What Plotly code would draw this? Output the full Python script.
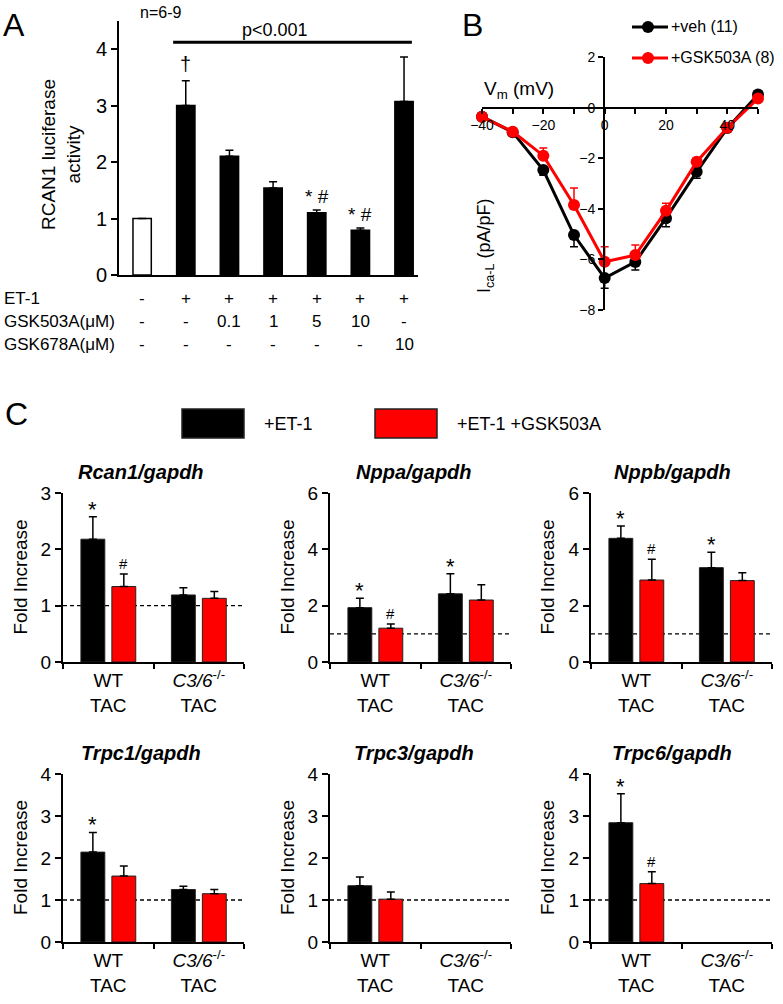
import plotly.graph_objects as go

W, H = 783, 1004
FONT = "Liberation Sans, Arial, sans-serif"

# ---------------- Panel A data ----------------
a_means = [1.00, 3.00, 2.10, 1.54, 1.10, 0.79, 3.07]
a_err = [0.00, 0.44, 0.11, 0.11, 0.05, 0.04, 0.79]
a_colors = ["white", "black", "black", "black", "black", "black", "black"]
a_marks = ["", "†", "", "", "* #", "* #", ""]
a_yticks = [0, 1, 2, 3, 4]
a_row_labels = ["ET-1", "GSK503A(μM)", "GSK678A(μM)"]
a_et1 = ["-", "+", "+", "+", "+", "+", "+"]
a_gsk503 = ["-", "-", "0.1", "1", "5", "10", "-"]
a_gsk678 = ["-", "-", "-", "-", "-", "-", "10"]

# ---------------- Panel B data ----------------
b_vm = [-40, -30, -20, -10, 0, 10, 20, 30, 40, 50]
b_veh = [-0.36, -0.97, -2.47, -5.04, -6.74, -6.10, -4.37, -2.54, -0.81, 0.52]
b_veh_err = [0.05, 0.08, 0.20, 0.46, 0.40, 0.32, 0.34, 0.25, 0.10, 0.05]
b_gsk = [-0.36, -0.95, -1.90, -3.85, -6.09, -5.83, -4.08, -2.14, -0.80, 0.36]
b_gsk_err = [0.05, 0.08, 0.30, 0.67, 0.59, 0.40, 0.30, 0.12, 0.08, 0.05]
b_xticks = [-40, -20, 0, 20, 40]
b_yticks = [2, 0, -2, -4, -6, -8]

# ---------------- Panel C data ----------------
c_categories = ["WT<br>TAC", "<i>C3/6</i><sup>-/-</sup><br>TAC"]
c_titles = ["Rcan1/gapdh", "Nppa/gapdh", "Nppb/gapdh",
            "Trpc1/gapdh", "Trpc3/gapdh", "Trpc6/gapdh"]
c_ymax = [3, 6, 6, 4, 4, 4]
c_dtick = [1, 2, 2, 1, 1, 1]

rcan1_et1 = [2.18, 1.19]; rcan1_et1_err = [0.40, 0.13]
rcan1_gsk = [1.34, 1.13]; rcan1_gsk_err = [0.22, 0.12]
nppa_et1 = [1.93, 2.42];  nppa_et1_err = [0.33, 0.71]
nppa_gsk = [1.20, 2.20];  nppa_gsk_err = [0.15, 0.54]
nppb_et1 = [4.39, 3.35];  nppb_et1_err = [0.44, 0.55]
nppb_gsk = [2.91, 2.89];  nppb_gsk_err = [0.74, 0.28]
trpc1_et1 = [2.14, 1.25]; trpc1_et1_err = [0.47, 0.08]
trpc1_gsk = [1.57, 1.15]; trpc1_gsk_err = [0.24, 0.10]
trpc3_et1 = [1.34, None]; trpc3_et1_err = [0.21, 0]
trpc3_gsk = [1.02, None]; trpc3_gsk_err = [0.17, 0]
trpc6_et1 = [2.84, None]; trpc6_et1_err = [0.69, 0]
trpc6_gsk = [1.39, None]; trpc6_gsk_err = [0.28, 0]

rcan1_marks = (["*", ""], ["#", ""])
nppa_marks = (["*", "*"], ["#", ""])
nppb_marks = (["*", "*"], ["#", ""])
trpc1_marks = (["*", ""], ["", ""])
trpc3_marks = (["", ""], ["", ""])
trpc6_marks = (["*", ""], ["#", ""])

c_sets = [
    (rcan1_et1, rcan1_et1_err, rcan1_gsk, rcan1_gsk_err, rcan1_marks),
    (nppa_et1, nppa_et1_err, nppa_gsk, nppa_gsk_err, nppa_marks),
    (nppb_et1, nppb_et1_err, nppb_gsk, nppb_gsk_err, nppb_marks),
    (trpc1_et1, trpc1_et1_err, trpc1_gsk, trpc1_gsk_err, trpc1_marks),
    (trpc3_et1, trpc3_et1_err, trpc3_gsk, trpc3_gsk_err, trpc3_marks),
    (trpc6_et1, trpc6_et1_err, trpc6_gsk, trpc6_gsk_err, trpc6_marks),
]


# ---------------- helpers (pixel -> paper) ----------------
def pxx(a, b):
    return [a / W, b / W]


def pxy(top, bottom):
    return [1 - bottom / H, 1 - top / H]


def px(x):
    return x / W


def py(y):
    return 1 - y / H


fig = go.Figure()
annotations = []
shapes = []


def note(text, x, y, size, xref="paper", yref="paper", xanchor="center",
         yanchor="middle", **kw):
    d = dict(text=text, x=x, y=y, xref=xref, yref=yref, showarrow=False,
             xanchor=xanchor, yanchor=yanchor,
             font=dict(size=size, color="black", family=FONT))
    d.update(kw)
    annotations.append(d)


# ================= Panel A =================
fig.add_trace(go.Bar(
    x=list(range(len(a_means))), y=a_means, width=0.42,
    marker=dict(color=a_colors, line=dict(color="black", width=1.5)),
    error_y=dict(type="data", symmetric=False, array=a_err,
                 arrayminus=[0] * len(a_err), color="black",
                 thickness=1.5, width=4),
    xaxis="x", yaxis="y", showlegend=False, cliponaxis=False))

for i, m in enumerate(a_marks):
    if m == "†":
        note(m, i, a_means[i] + a_err[i], 20, xref="x", yref="y",
             yanchor="bottom", yshift=4)
    elif m:
        note(m, i, a_means[i] + a_err[i], 19, xref="x", yref="y",
             yanchor="bottom", yshift=1)

note("p<0.001", 3.04, 4.13, 18, xref="x", yref="y", yanchor="bottom")
shapes.append(dict(type="line", xref="x", yref="y", x0=0.71, x1=6.18,
                   y0=4.12, y1=4.12, line=dict(color="black", width=3)))
note("n=6-9", px(160), py(13), 16)
note("RCAN1 luciferase<br>activity", px(61), py(155), 19, textangle=-90)

row_y = [299, 322, 345]
for label, vals, yy in zip(a_row_labels, [a_et1, a_gsk503, a_gsk678], row_y):
    note(label, px(2), py(yy), 17, xanchor="left")
    for i, v in enumerate(vals):
        note(v, i, py(yy), 17, xref="x")

# ================= Panel B =================
fig.add_trace(go.Scatter(
    x=b_vm, y=b_veh, mode="lines+markers", name="+veh (11)",
    line=dict(color="black", width=3), marker=dict(size=12, color="black"),
    error_y=dict(type="data", symmetric=False, array=[0] * len(b_vm),
                 arrayminus=b_veh_err, color="black", thickness=1.5, width=4),
    xaxis="x2", yaxis="y2", showlegend=False, cliponaxis=False))
fig.add_trace(go.Scatter(
    x=b_vm, y=b_gsk, mode="lines+markers", name="+GSK503A (8)",
    line=dict(color="#ff0000", width=3), marker=dict(size=12, color="#ff0000"),
    error_y=dict(type="data", symmetric=False, array=b_gsk_err,
                 arrayminus=[0] * len(b_vm), color="#ff0000",
                 thickness=1.5, width=4),
    xaxis="x2", yaxis="y2", showlegend=False, cliponaxis=False))

for yy, col, txt in [(27, "black", "+veh (11)"), (58, "#ff0000", "+GSK503A (8)")]:
    shapes.append(dict(type="line", xref="paper", yref="paper",
                       x0=px(632), x1=px(668), y0=py(yy), y1=py(yy),
                       line=dict(color=col, width=3)))
    shapes.append(dict(type="circle", xref="paper", yref="paper",
                       x0=px(642), x1=px(654), y0=py(yy + 6), y1=py(yy - 6),
                       fillcolor=col, line=dict(color=col, width=0)))
    note(txt, px(669), py(yy), 16, xanchor="left")

note("V<sub>m</sub> (mV)", px(519), py(90), 19)
note("I<sub>ca-L</sub> (pA/pF)", px(485), py(246), 18, textangle=-90)

# ================= Panel C =================
col_x = [(63, 244), (330, 511), (591, 772)]
row_y_px = [(493, 662), (774, 942)]
title_x = [141, 414, 672]
title_y = [472, 753]
ytitle_x = [20, 287, 547]

for k, (et, et_e, gs, gs_e, marks) in enumerate(c_sets):
    n = k + 3
    xa = "x%d" % n
    ya = "y%d" % n
    fig.add_trace(go.Bar(
        x=c_categories, y=et, width=0.264, offset=-0.302, name="+ET-1",
        marker=dict(color="black", line=dict(color="#222222", width=1)),
        error_y=dict(type="data", symmetric=False, array=et_e,
                     arrayminus=[0, 0], color="black", thickness=1.5, width=4),
        xaxis=xa, yaxis=ya, showlegend=False))
    fig.add_trace(go.Bar(
        x=c_categories, y=gs, width=0.264, offset=0.040, name="+ET-1 +GSK503A",
        marker=dict(color="#ff0000", line=dict(color="#222222", width=1)),
        error_y=dict(type="data", symmetric=False, array=gs_e,
                     arrayminus=[0, 0], color="black", thickness=1.5, width=4),
        xaxis=xa, yaxis=ya, showlegend=False))

    shapes.append(dict(type="line", xref="%s domain" % xa, yref=ya,
                       x0=0, x1=1, y0=1, y1=1, layer="below",
                       line=dict(color="black", width=1.3, dash="4px,3px")))

    for j in range(2):
        for vals, errs, mk, off, fs, ys in [(et, et_e, marks[0], -0.17, 22, -7),
                                             (gs, gs_e, marks[1], 0.172, 15, 0)]:
            if mk[j] and vals[j] is not None:
                note(mk[j], j + off, vals[j] + errs[j], fs, xref=xa, yref=ya,
                     yanchor="bottom", yshift=ys)

    r, c = divmod(k, 3)
    note("<b><i>%s</i></b>" % c_titles[k], px(title_x[c]), py(title_y[r]), 20)
    note("Fold Increase", px(ytitle_x[c]),
         py((row_y_px[r][0] + row_y_px[r][1]) / 2), 19, textangle=-90)

    fig.layout["xaxis%d" % n] = dict(
        domain=pxx(*col_x[c]), anchor=ya, type="category",
        categoryorder="array", categoryarray=c_categories, range=[-0.5, 1.5],
        showline=True, linecolor="black", linewidth=2, ticks="outside",
        tickson="boundaries", ticklen=5, tickwidth=2, tickcolor="black",
        tickfont=dict(size=19, color="black"), showgrid=False, zeroline=False,
        automargin=False)
    fig.layout["yaxis%d" % n] = dict(
        domain=pxy(*row_y_px[r]), anchor=xa, range=[0, c_ymax[k]],
        dtick=c_dtick[k], tick0=0, showline=True, linecolor="black", linewidth=2,
        ticks="outside", ticklen=6, tickwidth=2, tickcolor="black",
        tickfont=dict(size=19, color="black"), showgrid=False, zeroline=False,
        automargin=False)

# Panel C legend
for x0, x1, col, tx, txt in [(182, 244, "black", 262, "+ET-1"),
                             (375, 437, "#ff0000", 455, "+ET-1 +GSK503A")]:
    shapes.append(dict(type="rect", xref="paper", yref="paper",
                       x0=px(x0), x1=px(x1), y0=py(438), y1=py(409),
                       fillcolor=col, line=dict(color="#222222", width=1.5)))
    note(txt, px(tx), py(424), 18, xanchor="left")

# Panel letters
for letter, xx, yy in [("A", 14, 25), ("B", 473, 25), ("C", 16, 414)]:
    note(letter, px(xx), py(yy), 32)

fig.update_layout(
    template="none",
    width=W, height=H, margin=dict(l=0, r=0, t=0, b=0, pad=0, autoexpand=False),
    paper_bgcolor="white", plot_bgcolor="white",
    font=dict(family=FONT, color="black"),
    barmode="overlay", showlegend=False,
    xaxis=dict(domain=pxx(119, 418), anchor="y", range=[-0.53, 6.32],
               showline=True, linecolor="black", linewidth=2,
               showticklabels=False, ticks="", showgrid=False, zeroline=False,
               automargin=False),
    yaxis=dict(domain=pxy(20.75, 275), anchor="x", range=[0, 4.5],
               tickvals=a_yticks, ticks="outside", ticklen=6, tickwidth=2,
               tickcolor="black", showline=True, linecolor="black", linewidth=2,
               tickfont=dict(size=20, color="black"), showgrid=False,
               zeroline=False, automargin=False),
    xaxis2=dict(domain=pxx(482, 758), anchor="free", position=py(107.5),
                range=[-40, 50], tickvals=b_xticks, ticks="outside", ticklen=5,
                tickwidth=2, tickcolor="black", showline=True, linecolor="black",
                linewidth=2, tickfont=dict(size=14, color="black"),
                minor=dict(dtick=10, ticks="outside", ticklen=5, tickwidth=2,
                           tickcolor="black"),
                showgrid=False, zeroline=False, automargin=False),
    yaxis2=dict(domain=pxy(57, 310), anchor="free", position=px(604),
                range=[-8, 2], tickvals=b_yticks, ticks="outside", ticklen=5,
                tickwidth=2, tickcolor="black", showline=True, linecolor="black",
                linewidth=2, tickfont=dict(size=14, color="black"),
                showgrid=False, zeroline=False, automargin=False),
    annotations=annotations, shapes=shapes,
)

fig.write_html("out.html", config={"displayModeBar": False},
               post_script="document.body.style.margin='0';"
                           "document.body.style.overflow='hidden';")
